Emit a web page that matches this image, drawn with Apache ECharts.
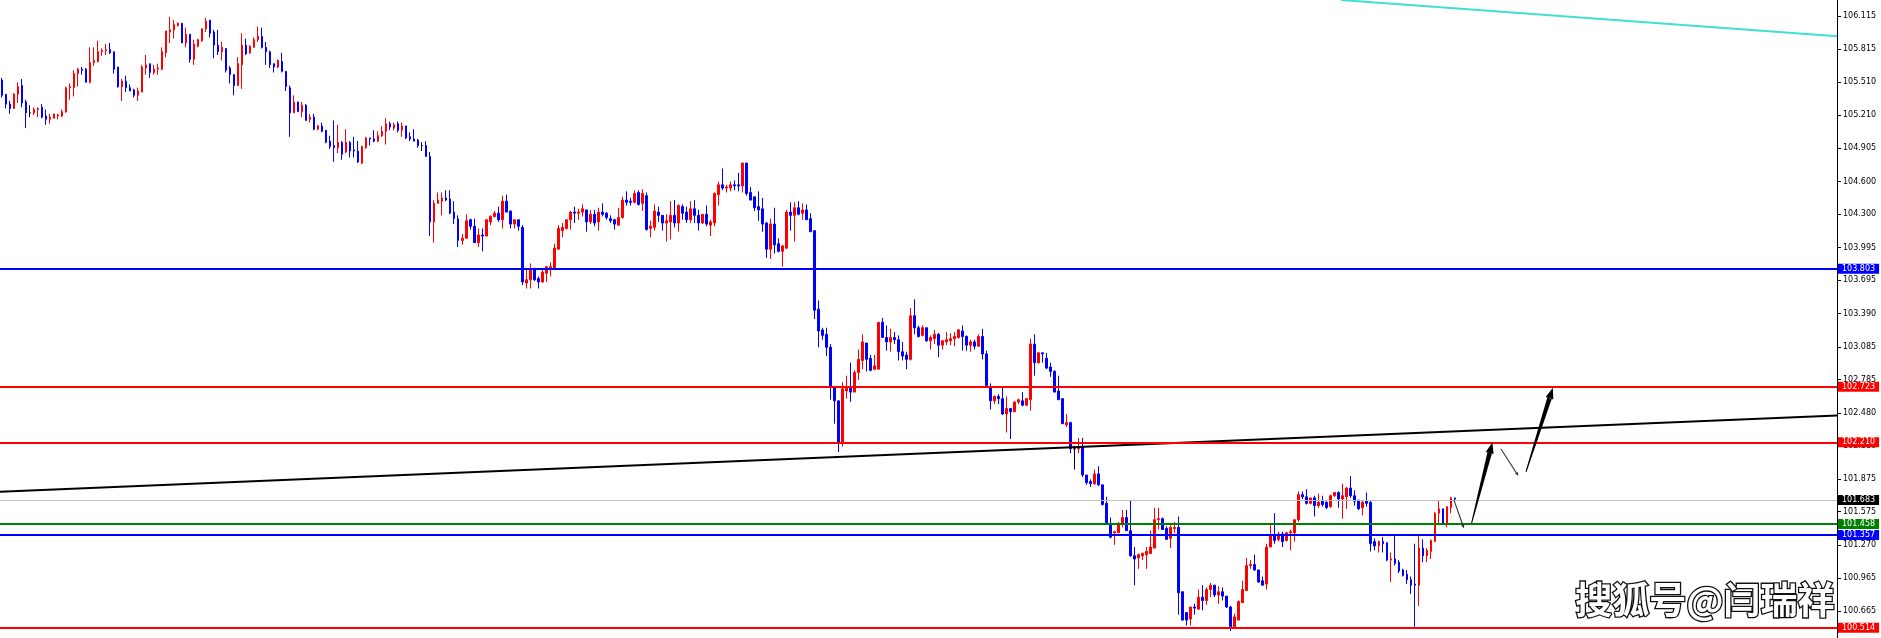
<!DOCTYPE html>
<html><head><meta charset="utf-8">
<script src="https://cdn.jsdelivr.net/npm/echarts@6.0.0/dist/echarts.min.js"></script>
<style>html,body{margin:0;padding:0;background:#fff;}#chart{width:1881px;height:638px;}</style>
</head><body><div id="chart"></div>
<script>
// candles as [open, close, low, high]
const ohlcA = [
[105.53,105.39,105.37,105.55],[105.40,105.31,105.27,105.40],[105.31,105.27,105.22,105.34],[105.27,105.40,105.27,105.41],
[105.40,105.47,105.32,105.51],[105.48,105.32,105.28,105.54],[105.33,105.23,105.09,105.35],[105.23,105.23,105.19,105.30],
[105.23,105.26,105.21,105.28],[105.26,105.27,105.19,105.28],[105.28,105.19,105.18,105.31],[105.20,105.17,105.12,105.26],
[105.17,105.19,105.13,105.22],[105.18,105.22,105.18,105.22],[105.20,105.21,105.17,105.22],[105.20,105.24,105.19,105.26],
[105.24,105.46,105.23,105.47],[105.46,105.47,105.35,105.50],[105.46,105.59,105.38,105.62],[105.59,105.63,105.47,105.64],
[105.63,105.62,105.58,105.65],[105.63,105.51,105.51,105.64],[105.51,105.69,105.50,105.83],[105.69,105.71,105.66,105.83],
[105.70,105.79,105.69,105.89],[105.79,105.80,105.75,105.82],[105.80,105.81,105.76,105.86],[105.81,105.78,105.77,105.87],
[105.79,105.63,105.59,105.79],[105.65,105.47,105.46,105.65],[105.47,105.52,105.34,105.54],[105.52,105.46,105.42,105.57],
[105.46,105.43,105.43,105.49],[105.44,105.39,105.37,105.45],[105.39,105.43,105.34,105.46],[105.42,105.65,105.42,105.67],
[105.64,105.67,105.58,105.76],[105.68,105.60,105.55,105.68],[105.60,105.63,105.58,105.67],[105.63,105.64,105.58,105.68],
[105.63,105.79,105.62,105.83],[105.78,105.98,105.74,105.98],[105.97,105.99,105.87,106.11],[105.99,106.04,105.91,106.08],
[106.03,106.05,106.02,106.06],[106.05,105.87,105.87,106.05],[105.87,105.95,105.83,106.01],[105.95,105.72,105.69,105.95],
[105.72,105.86,105.67,105.90],[105.84,105.90,105.83,105.91],[105.89,106.00,105.88,106.00],[106.00,106.07,105.97,106.10],
[106.08,105.96,105.92,106.08],[105.97,105.85,105.73,105.99],[105.85,105.79,105.76,105.99],[105.79,105.83,105.71,105.88],
[105.82,105.62,105.60,105.82],[105.64,105.58,105.50,105.66],[105.58,105.48,105.39,105.58],[105.48,105.68,105.48,105.74],
[105.67,105.85,105.45,105.96],[105.85,105.77,105.76,105.91],[105.78,105.84,105.77,105.85],[105.83,105.90,105.83,105.92],
[105.90,105.93,105.88,106.02],[105.93,105.83,105.82,106.01],[105.83,105.79,105.67,105.88],[105.79,105.67,105.64,105.80],
[105.68,105.65,105.60,105.68],[105.65,105.71,105.64,105.72],[105.70,105.61,105.60,105.78],[105.61,105.47,105.43,105.61],
[105.46,105.23,105.01,105.48],[105.23,105.33,105.23,105.39],[105.33,105.24,105.24,105.33],[105.24,105.30,105.19,105.33],
[105.30,105.16,105.16,105.31],[105.17,105.19,105.14,105.22],[105.19,105.08,105.07,105.22],[105.08,105.11,105.07,105.12],
[105.11,105.06,105.05,105.14],[105.07,104.96,104.95,105.07],[104.97,104.92,104.90,105.02],[104.93,104.91,104.78,105.16],
[104.91,104.96,104.86,105.12],[104.96,104.85,104.80,104.97],[104.87,104.96,104.86,105.08],[104.96,104.88,104.82,104.97],
[104.89,104.88,104.82,105.01],[104.88,104.78,104.77,104.97],[104.77,104.92,104.76,104.93],[104.91,105.00,104.90,105.01],
[105.00,104.99,104.93,105.00],[104.99,104.97,104.96,105.07],[104.97,105.02,104.96,105.06],[105.02,105.06,105.01,105.11],
[105.06,105.13,104.94,105.18],[105.13,105.10,105.07,105.15],[105.09,105.12,105.07,105.14],[105.13,105.07,105.05,105.15],
[105.07,105.11,105.01,105.14],[105.11,105.00,104.99,105.11],[105.01,104.99,104.97,105.05],[104.99,104.97,104.97,105.08],
[104.98,104.93,104.91,104.99],[104.93,104.93,104.88,104.96],[104.93,104.83,104.83,104.97]
];
const ohlcB = [
[104.83,104.23,104.10,104.87],[104.23,104.40,104.04,104.43],[104.40,104.43,104.40,104.50],[104.42,104.45,104.29,104.50],
[104.45,104.43,104.42,104.52],[104.44,104.31,104.30,104.52],[104.32,104.26,104.21,104.42],[104.26,104.06,104.00,104.29],
[104.06,104.08,104.02,104.12],[104.08,104.24,104.08,104.30],[104.25,104.19,104.16,104.26],[104.19,104.04,104.04,104.26],
[104.04,104.11,104.00,104.17],[104.11,104.10,103.96,104.17],[104.10,104.25,104.10,104.25],[104.23,104.28,104.20,104.29],
[104.28,104.31,104.27,104.33],[104.31,104.25,104.23,104.37],[104.25,104.42,104.17,104.47],[104.42,104.32,104.32,104.48],
[104.33,104.21,104.17,104.33],[104.21,104.25,104.17,104.25],[104.25,104.19,104.15,104.25],[104.18,103.68,103.65,104.20],
[103.67,103.70,103.62,103.80],[103.70,103.79,103.62,103.85],[103.79,103.70,103.69,103.81],[103.71,103.68,103.62,103.73],
[103.68,103.77,103.67,103.80],[103.76,103.82,103.68,103.82],[103.81,103.82,103.73,103.86],[103.80,103.99,103.80,104.03],
[103.98,104.17,103.98,104.20],[104.15,104.18,104.09,104.22],[104.17,104.25,104.16,104.25],[104.25,104.32,104.16,104.33],
[104.32,104.31,104.22,104.37],[104.31,104.32,104.25,104.35],[104.32,104.35,104.28,104.39],[104.34,104.23,104.14,104.34],
[104.23,104.30,104.21,104.34],[104.30,104.22,104.19,104.34],[104.23,104.32,104.15,104.36],[104.32,104.30,104.28,104.40],
[104.31,104.27,104.25,104.32],[104.26,104.24,104.22,104.29],[104.25,104.21,104.16,104.26],[104.20,104.27,104.20,104.36],
[104.27,104.43,104.26,104.46],[104.43,104.41,104.38,104.51],[104.42,104.41,104.38,104.45],[104.41,104.49,104.40,104.52],
[104.50,104.39,104.38,104.52],[104.40,104.49,104.33,104.53],[104.47,104.16,104.15,104.50],[104.17,104.19,104.09,104.24],
[104.18,104.33,104.15,104.39],[104.32,104.29,104.23,104.37],[104.29,104.22,104.15,104.29],[104.22,104.24,104.05,104.30],
[104.23,104.29,104.07,104.42],[104.29,104.22,104.18,104.43],[104.22,104.38,104.14,104.39],[104.37,104.31,104.25,104.39],
[104.32,104.25,104.22,104.37],[104.25,104.35,104.22,104.42],[104.35,104.29,104.22,104.43],[104.29,104.22,104.15,104.34],
[104.22,104.30,104.21,104.30],[104.30,104.21,104.19,104.38],[104.20,104.23,104.10,104.25],[104.22,104.49,104.19,104.50],
[104.48,104.57,104.38,104.60],[104.57,104.54,104.52,104.72],[104.54,104.55,104.50,104.57],[104.54,104.57,104.51,104.60],
[104.57,104.56,104.52,104.61],[104.57,104.56,104.51,104.68],[104.56,104.77,104.50,104.77],[104.77,104.49,104.47,104.77],
[104.50,104.43,104.43,104.55],[104.46,104.36,104.33,104.46],[104.37,104.34,104.24,104.51],[104.35,104.21,104.14,104.45],
[104.22,103.98,103.90,104.23],[103.98,104.21,103.89,104.26],[104.21,104.02,103.94,104.36],[104.03,103.96,103.95,104.08],
[103.96,104.01,103.82,104.02],[103.99,104.32,103.98,104.34],[104.32,104.29,104.15,104.41],[104.29,104.36,104.05,104.41],
[104.36,104.30,104.29,104.42],[104.31,104.34,104.25,104.40],[104.34,104.25,104.25,104.39],[104.26,104.14,104.14,104.31],
[104.15,103.42,103.34,104.15]
];
const ohlcC = [
[103.43,103.23,103.08,103.51],[103.24,103.19,103.15,103.26],[103.20,103.08,103.00,103.26],[103.08,102.72,102.60,103.11],
[102.71,102.59,102.38,102.71],[102.59,102.20,102.12,102.59],[102.20,102.70,102.17,102.76],[102.68,102.71,102.61,102.82],
[102.71,102.67,102.58,102.94],[102.67,102.85,102.67,102.87],[102.85,102.97,102.78,103.06],[102.96,103.13,102.88,103.20],
[103.12,102.97,102.86,103.12],[102.98,102.87,102.86,103.01],[102.88,102.91,102.87,103.01],[102.88,103.31,102.88,103.31],
[103.31,103.17,103.17,103.35],[103.17,103.13,103.05,103.28],[103.13,103.17,103.04,103.25],[103.17,103.15,103.11,103.22],
[103.15,103.04,102.96,103.19],[103.04,103.00,102.96,103.13],[103.01,102.97,102.88,103.04],[102.97,103.37,102.96,103.44],
[103.37,103.26,103.20,103.52],[103.26,103.18,103.17,103.28],[103.19,103.26,103.18,103.28],[103.26,103.14,103.13,103.26],
[103.14,103.17,103.06,103.19],[103.16,103.20,103.11,103.24],[103.20,103.10,102.99,103.21],[103.10,103.14,103.06,103.15],
[103.13,103.15,103.10,103.22],[103.14,103.16,103.10,103.21],[103.16,103.18,103.09,103.22],[103.17,103.24,103.16,103.25],
[103.23,103.18,103.05,103.28],[103.18,103.10,103.05,103.19],[103.10,103.13,103.04,103.15],[103.13,103.09,103.06,103.15],
[103.09,103.18,103.09,103.20],[103.18,103.02,102.97,103.25],[103.02,102.73,102.73,103.05],[102.72,102.59,102.51,102.75],
[102.59,102.63,102.56,102.64],[102.63,102.61,102.56,102.65],[102.61,102.47,102.46,102.71],[102.47,102.52,102.30,102.63],
[102.52,102.49,102.24,102.52],[102.49,102.58,102.49,102.58],[102.58,102.60,102.56,102.61],[102.59,102.55,102.54,102.67],
[102.55,102.61,102.54,102.61],[102.60,103.11,102.50,103.16],[103.11,102.94,102.82,103.20],[102.94,103.03,102.93,103.04],
[103.03,103.02,102.94,103.03],[102.98,102.89,102.88,103.03],[102.90,102.86,102.81,102.94],[102.86,102.67,102.67,102.87],
[102.68,102.60,102.60,102.82],[102.61,102.38,102.38,102.61]
];
const ohlcD = [
[102.37,102.39,102.35,102.47],[102.39,102.15,102.11,102.40],[102.15,102.15,101.96,102.18],[102.15,102.17,102.11,102.25],
[102.17,101.91,101.89,102.25],[101.91,101.84,101.82,101.91],[101.85,101.83,101.80,101.87],[101.83,101.92,101.82,101.96],
[101.92,101.82,101.81,101.99],[101.82,101.64,101.63,101.82],[101.65,101.46,101.46,101.71],[101.46,101.34,101.33,101.52],
[101.38,101.39,101.27,101.40],[101.38,101.46,101.38,101.48],[101.46,101.52,101.43,101.59],[101.52,101.40,101.40,101.59],
[101.40,101.17,101.16,101.68],[101.17,101.14,100.90,101.25],[101.15,101.18,101.05,101.19],[101.17,101.19,101.13,101.20],
[101.18,101.21,101.05,101.25],[101.19,101.25,101.19,101.40],[101.24,101.50,101.24,101.61],[101.50,101.51,101.41,101.61],
[101.51,101.41,101.41,101.52],[101.42,101.32,101.32,101.44],[101.33,101.43,101.24,101.45],[101.42,101.43,101.38,101.48],
[101.43,100.83,100.63,101.53],[100.84,100.58,100.58,100.84],[100.65,100.58,100.53,100.65],[100.59,100.70,100.53,100.70],
[100.70,100.69,100.63,100.73],[100.68,100.79,100.68,100.86],[100.79,100.76,100.67,100.90],[100.76,100.86,100.72,100.88],
[100.86,100.90,100.79,100.92],[100.90,100.81,100.79,100.90],[100.81,100.84,100.73,100.89],[100.84,100.80,100.76,100.88],
[100.80,100.70,100.69,100.80],[100.70,100.52,100.48,100.71],[100.52,100.61,100.52,100.64],[100.58,100.75,100.58,100.76],
[100.74,100.86,100.74,100.94],[100.85,101.08,100.85,101.15],[101.08,101.09,101.05,101.13],[101.09,101.04,101.03,101.18],
[101.04,100.93,100.92,101.04],[100.94,100.90,100.90,100.98],[100.91,101.25,100.86,101.28],[101.25,101.36,101.25,101.46],
[101.36,101.31,101.28,101.56],[101.32,101.37,101.30,101.39],[101.37,101.30,101.25,101.39],[101.31,101.38,101.30,101.39],
[101.38,101.39,101.22,101.41],[101.38,101.50,101.30,101.50],[101.50,101.73,101.48,101.76],[101.73,101.71,101.69,101.76],
[101.71,101.65,101.64,101.78],[101.65,101.70,101.64,101.70],[101.70,101.63,101.53,101.72],[101.63,101.66,101.61,101.74],
[101.67,101.64,101.62,101.72],[101.66,101.61,101.60,101.67],[101.62,101.72,101.61,101.73],[101.72,101.75,101.71,101.75],
[101.75,101.69,101.61,101.76],[101.69,101.72,101.51,101.83],[101.71,101.79,101.60,101.80],[101.79,101.72,101.70,101.90],
[101.72,101.67,101.63,101.77],[101.68,101.60,101.59,101.68],[101.61,101.66,101.54,101.68],[101.67,101.65,101.62,101.75],
[101.66,101.28,101.21,101.67],[101.30,101.26,101.22,101.33],[101.26,101.30,101.20,101.31],[101.30,101.28,101.20,101.34],
[101.29,101.13,101.12,101.29],[101.13,101.14,100.93,101.20],[101.14,101.10,101.08,101.36],[101.11,101.03,101.01,101.13],
[101.04,100.99,100.98,101.05],[101.00,100.95,100.91,101.04],[100.95,100.90,100.82,100.98],[100.91,100.90,100.52,101.28],
[100.90,101.24,100.71,101.37],[101.24,101.17,101.11,101.32],[101.17,101.22,101.11,101.24],[101.21,101.31,101.14,101.32],
[101.30,101.56,101.30,101.57],[101.56,101.60,101.47,101.68],[101.60,101.47,101.47,101.60],[101.47,101.62,101.43,101.62],
[101.61,101.70,101.56,101.71],[101.70,101.69,101.66,101.70]
];
const slotCount = 459;               // bars + empty right margin
const tickValues = [106.115,105.815,105.510,105.210,104.905,104.600,104.300,103.995,103.695,103.390,
                    103.085,102.785,102.480,102.180,101.875,101.575,101.270,100.965,100.665];
const levelValues = [103.803,102.723,102.210,101.683,101.458,101.357,100.514];
const mainTrend = [[-0.5,101.756],[458.5,102.455]];
const upperTrend = [[334.6,106.264],[458.5,105.931]];
const arrowPaths = [[362.8,101.68,365.3,101.42],[367.2,101.47,372.4,102.21],[374.5,102.15,378.9,101.90],[380.8,101.94,387.5,102.71]];
const yMin = 100.416, yMax = 106.264;

const categories = [];
for (let i = 0; i < slotCount; i++) categories.push('bar' + (i + 1));
const candles = ohlcA.concat(ohlcB, ohlcC, ohlcD);

const levelLine = ['#0000ff','#ff0000','#ff0000','#c0c0c0','#008000','#0000ff','#ff0000'];
const levelTag  = ['#0000ff','#ff0000','#ff0000','#000000','#008000','#0000ff','#ff0000'];
const levelWidth = [2,2,2,1,2,2,2];
const arrowThick = [false,true,false,true];
const axisFont = 'DejaVu Sans';

const chart = echarts.init(document.getElementById('chart'), null, {renderer:'canvas'});
chart.setOption({
  animation: false,
  backgroundColor: '#ffffff',
  grid: {left: 0, right: 44, top: 0, bottom: 0, containLabel: false},
  xAxis: [
    {type:'category', data: categories, boundaryGap: true, show: false},
    {type:'value', min: -0.5, max: slotCount - 0.5, show: false}
  ],
  yAxis: {
    type:'value', position:'right', min: yMin, max: yMax, scale: true,
    axisLine: {show: true, onZero: false, lineStyle: {color:'#000', width: 1}},
    axisTick: {show: true, customValues: tickValues, length: 4, lineStyle: {color:'#000'}},
    axisLabel: {customValues: tickValues, formatter: v => Number(v).toFixed(3), color:'#000',
                fontSize: 8, fontFamily: axisFont, margin: 6},
    splitLine: {show: false}
  },
  graphic: [{
    type:'text', left: 1574, top: 580, z: 100, silent: true,
    style: {text:'搜狐号@闫瑞祥', fontSize: 37, fontFamily:'Noto Sans CJK SC', fontWeight:'bold',
            fill:'#ffffff', stroke:'#111111', lineWidth: 2.6,
            shadowColor:'rgba(0,0,0,0.9)', shadowOffsetX: 1.5, shadowOffsetY: 1.5, shadowBlur: 0}
  }],
  series: [
    {
      type:'candlestick', data: candles, barWidth: 2, clip: true,
      itemStyle: {color:'#ff0000', color0:'#0000ff', borderColor:'#ff0000', borderColor0:'#0000ff',
                  borderColorDoji:'#000000', borderWidth: 1},
      markLine: {
        silent: true, symbol: 'none', animation: false,
        data: levelValues.map((v, k) => ({
          yAxis: v,
          lineStyle: {color: levelLine[k], width: levelWidth[k], type:'solid'},
          label: {show: true, position:'end', formatter: v.toFixed(3), color:'#fff',
                  backgroundColor: levelTag[k], padding:[0,4,0,4], distance: 1,
                  fontSize: 8, fontFamily: axisFont, lineHeight: 10}
        }))
      }
    },
    {type:'line', xAxisIndex: 1, data: mainTrend, symbol:'none', lineStyle:{color:'#000', width: 2}, silent: true},
    {type:'line', xAxisIndex: 1, data: upperTrend, symbol:'none', lineStyle:{color:'#40e0d0', width: 2}, silent: true},
    {
      type:'custom', xAxisIndex: 1, data: arrowPaths, silent: true, z: 5,
      encode: {x:[0,2], y:[1,3]},
      renderItem: function (params, api) {
        const p0 = api.coord([api.value(0), api.value(1)]);
        const p1 = api.coord([api.value(2), api.value(3)]);
        const thick = arrowThick[params.dataIndex];
        const dx = p1[0]-p0[0], dy = p1[1]-p0[1];
        const len = Math.hypot(dx, dy), ux = dx/len, uy = dy/len, nx = -uy, ny = ux;
        const headLen = thick ? 11 : 4, headHalf = thick ? 4 : 1.6;
        const w0 = 0.5, w1 = thick ? 2.3 : 0.6;
        const bx = p1[0]-ux*headLen, by = p1[1]-uy*headLen;
        const col = thick ? '#000' : '#333';
        return {type:'group', children:[
          {type:'polygon', shape:{points:[[p0[0]+nx*w0,p0[1]+ny*w0],[bx+nx*w1,by+ny*w1],[bx-nx*w1,by-ny*w1],[p0[0]-nx*w0,p0[1]-ny*w0]]}, style:{fill: col}},
          {type:'polygon', shape:{points:[[p1[0],p1[1]],[bx+nx*headHalf,by+ny*headHalf],[bx-nx*headHalf,by-ny*headHalf]]}, style:{fill: col}}
        ]};
      }
    }
  ]
});
</script>
</body></html>
